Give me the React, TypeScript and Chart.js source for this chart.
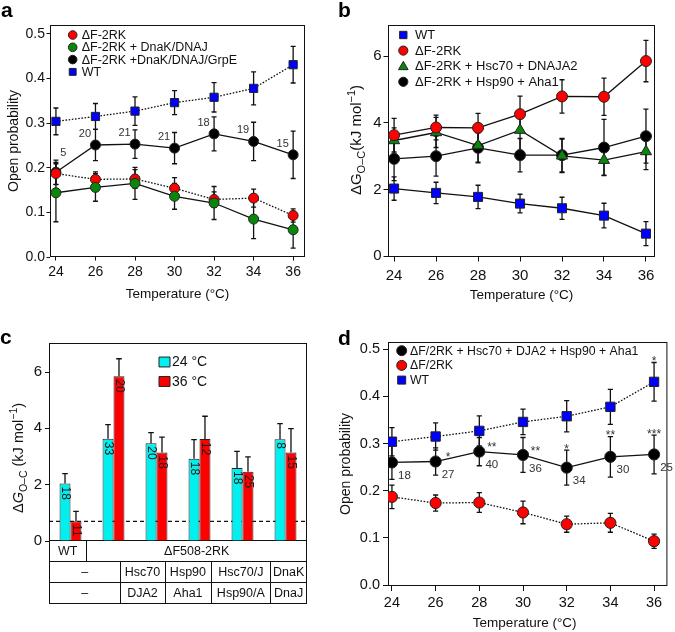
import React, { useEffect, useRef } from 'react';
import { Chart, registerables } from 'chart.js';

Chart.register(...registerables);

const FONT = '"Liberation Sans", Arial, Helvetica, sans-serif';
const INK = '#111111';
const RED = '#ff0000';
const GREEN = '#0a870a';
const BLUE = '#0000ff';
const BLACK = '#000000';
const CYAN = '#00f0f0';

// ---------- shared axes ----------
const TEMPS = [24, 26, 28, 30, 32, 34, 36];
const TEMP_TICKS = [24, 26, 28, 30, 32, 34, 36];
const PO_TICKS = [0, 0.1, 0.2, 0.3, 0.4, 0.5];
const DG_TICKS = [0, 2, 4, 6];

// ---------- panels a & d : open probability ----------
const WT_PO = [0.304, 0.315, 0.327, 0.346, 0.358, 0.378, 0.431];
const WT_PO_ERR = [0.03, 0.029, 0.032, 0.027, 0.033, 0.037, 0.041];
const DF_PO = [0.187, 0.174, 0.175, 0.154, 0.129, 0.132, 0.093];
const DF_PO_ERR = [0.025, 0.017, 0.021, 0.024, 0.017, 0.02, 0.015];
const DNAKJ_PO = [0.144, 0.156, 0.165, 0.136, 0.121, 0.085, 0.061];
const DNAKJ_PO_ERR = [0.065, 0.031, 0.036, 0.029, 0.037, 0.044, 0.041];
const DNAKJE_PO = [0.19, 0.251, 0.253, 0.244, 0.276, 0.259, 0.229];
const DNAKJE_PO_ERR = [0.027, 0.035, 0.032, 0.035, 0.038, 0.043, 0.053];
const DNAKJE_N = ['5', '20', '21', '21', '18', '19', '15'];

const COMBO_PO = [0.26, 0.262, 0.283, 0.276, 0.249, 0.272, 0.277];
const COMBO_PO_ERR = [0.036, 0.029, 0.03, 0.037, 0.037, 0.043, 0.041];
const COMBO_N = ['18', '27', '40', '36', '34', '30', '25'];
const COMBO_SIG = ['', '*', '**', '**', '*', '**', '***'];
const WT_SIG = ['', '', '', '', '', '', '*'];

// ---------- panel b : ΔG ----------
const WT_DG = [2.03, 1.9, 1.78, 1.58, 1.44, 1.22, 0.68];
const WT_DG_ERR = [0.35, 0.32, 0.35, 0.28, 0.33, 0.37, 0.36];
const DF_DG = [3.63, 3.86, 3.85, 4.26, 4.79, 4.78, 5.85];
const DF_DG_ERR = [0.5, 0.37, 0.43, 0.54, 0.5, 0.56, 0.62];
const HSC_DG = [3.47, 3.71, 3.32, 3.78, 3.01, 2.88, 3.14];
const HSC_DG_ERR = [0.38, 0.45, 0.5, 0.6, 0.5, 0.45, 0.54];
const HSP_DG = [2.92, 3.0, 3.25, 3.03, 3.03, 3.26, 3.6];
const HSP_DG_ERR = [0.65, 0.6, 0.45, 0.5, 0.5, 0.84, 0.81];

// ---------- panel c : bars ----------
const C_GROUPS = ['WT', 'ΔF508-2RK', 'Hsc70 + DJA2', 'Hsp90 + Aha1', 'Hsc70/J + Hsp90/A', 'DnaK + DnaJ'];
const C_24 = [2.04, 3.63, 3.47, 2.92, 2.59, 3.61];
const C_24_ERR = [0.35, 0.5, 0.38, 0.68, 0.59, 0.56];
const C_36 = [0.7, 5.85, 3.14, 3.62, 2.46, 3.14];
const C_36_ERR = [0.35, 0.62, 0.55, 0.81, 0.53, 0.85];
const C_24_N = ['18', '33', '20', '18', '18', '8'];
const C_36_N = ['11', '20', '18', '12', '25', '15'];
const C_REF = 0.7;
const ROW1 = ['WT', 'ΔF508-2RK'];
const ROW2 = ['–', 'Hsc70', 'Hsp90', 'Hsc70/J', 'DnaK'];
const ROW3 = ['–', 'DJA2', 'Aha1', 'Hsp90/A', 'DnaJ'];

// ---------- helpers ----------
function font(size: number, weight = 'normal', style = 'normal') {
  return `${style} ${weight} ${size}px ${FONT}`;
}

type Seg = { t: string; s: number; dy?: number; it?: boolean };
function richText(ctx: CanvasRenderingContext2D, segs: Seg[], cx: number, cy: number, rot: number) {
  ctx.save();
  ctx.translate(cx, cy);
  ctx.rotate(rot);
  ctx.textBaseline = 'alphabetic';
  ctx.textAlign = 'left';
  ctx.fillStyle = INK;
  let total = 0;
  const ws = segs.map((g) => {
    ctx.font = font(g.s, 'normal', g.it ? 'italic' : 'normal');
    const w = ctx.measureText(g.t).width;
    total += w;
    return w;
  });
  const main = segs[0].s;
  let x = -total / 2;
  segs.forEach((g, i) => {
    ctx.font = font(g.s, 'normal', g.it ? 'italic' : 'normal');
    ctx.fillText(g.t, x, main * 0.36 + (g.dy || 0));
    x += ws[i];
  });
  ctx.restore();
}

function text(ctx: CanvasRenderingContext2D, t: string, x: number, y: number, size: number, rot = 0, color = INK, weight = 'normal') {
  ctx.save();
  ctx.translate(x, y);
  ctx.rotate(rot);
  ctx.font = font(size, weight);
  ctx.fillStyle = color;
  ctx.textAlign = 'center';
  ctx.textBaseline = 'middle';
  ctx.fillText(t, 0, 0);
  ctx.restore();
}

function letter(ctx: CanvasRenderingContext2D, t: string, x: number, y: number) {
  ctx.save();
  ctx.font = font(21, 'bold');
  ctx.fillStyle = '#000';
  ctx.textAlign = 'left';
  ctx.textBaseline = 'alphabetic';
  ctx.fillText(t, x, y);
  ctx.restore();
}

function marker(ctx: CanvasRenderingContext2D, style: string, x: number, y: number, r: number, fill: string) {
  ctx.save();
  ctx.fillStyle = fill;
  ctx.strokeStyle = '#222';
  ctx.lineWidth = 1;
  ctx.beginPath();
  if (style === 'rect') {
    const s = r * 0.8;
    ctx.rect(x - s, y - s, 2 * s, 2 * s);
  } else if (style === 'triangle') {
    ctx.moveTo(x, y - r * 1.05);
    ctx.lineTo(x + r * 1.05, y + r * 0.75);
    ctx.lineTo(x - r * 1.05, y + r * 0.75);
    ctx.closePath();
  } else if (style === 'box') {
    ctx.rect(x - r, y - r * 0.9, 2 * r, 1.8 * r);
  } else {
    ctx.arc(x, y, r, 0, Math.PI * 2);
  }
  ctx.fill();
  ctx.stroke();
  ctx.restore();
}

const framePlugin = {
  id: 'frame',
  beforeDatasetsDraw(chart: any) {
    const { ctx, chartArea: a } = chart;
    ctx.save();
    ctx.strokeStyle = INK;
    ctx.lineWidth = 1;
    ctx.strokeRect(a.left + 0.5, a.top + 0.5, a.right - a.left - 1, a.bottom - a.top - 1);
    ctx.restore();
  },
};

function errorBars(o: { cap: number; width: number; upOnly?: boolean }) {
  const draw = (chart: any) => {
    const ctx = chart.ctx;
    const ys = chart.scales.y;
    ctx.save();
    ctx.strokeStyle = INK;
    ctx.lineWidth = o.width;
    chart.data.datasets.forEach((ds: any, di: number) => {
      if (!ds.errors) return;
      const meta = chart.getDatasetMeta(di);
      meta.data.forEach((el: any, i: number) => {
        const d = ds.data[i];
        const v = typeof d === 'number' ? d : d.y;
        const e = ds.errors[i];
        const top = ys.getPixelForValue(v + e);
        const bot = ys.getPixelForValue(o.upOnly ? v : v - e);
        const x = el.x;
        ctx.beginPath();
        ctx.moveTo(x, top);
        ctx.lineTo(x, bot);
        ctx.moveTo(x - o.cap, top);
        ctx.lineTo(x + o.cap, top);
        if (!o.upOnly) {
          ctx.moveTo(x - o.cap, bot);
          ctx.lineTo(x + o.cap, bot);
        }
        ctx.stroke();
      });
    });
    ctx.restore();
  };
  return o.upOnly
    ? { id: 'errorBars', afterDatasetsDraw: draw }
    : { id: 'errorBars', beforeDatasetsDraw: draw };
}

function legendPlugin(o: { x: number; y: number; dy: number; tx: number; size: number; r: number; order: number[] }) {
  return {
    id: 'customLegend',
    afterDraw(chart: any) {
      const ctx = chart.ctx;
      o.order.forEach((di, k) => {
        const ds = chart.data.datasets[di];
        const y = o.y + k * o.dy;
        const style = ds.legendMarker || ds.pointStyle || 'circle';
        const fill = ds.pointBackgroundColor || ds.backgroundColor;
        marker(ctx, style, o.x, y, o.r, fill);
        ctx.save();
        ctx.font = font(o.size);
        ctx.fillStyle = INK;
        ctx.textAlign = 'left';
        ctx.textBaseline = 'middle';
        ctx.fillText(ds.label, o.tx, y + 0.5);
        ctx.restore();
      });
    },
  };
}

function decor(fn: (chart: any, ctx: CanvasRenderingContext2D) => void) {
  return { id: 'decor', afterDraw(chart: any) { fn(chart, chart.ctx); } };
}

function pts(vals: number[]) {
  return TEMPS.map((t, i) => ({ x: t, y: vals[i] }));
}

function lineDs(label: string, vals: number[], errs: number[], color: string, shape: string, r: number, dotted: boolean, order: number) {
  return {
    label,
    data: pts(vals),
    errors: errs,
    borderColor: INK,
    borderWidth: 1.3,
    borderDash: dotted ? [1.6, 1.6] : [],
    pointStyle: shape,
    pointRadius: r,
    pointHoverRadius: r,
    pointBackgroundColor: color,
    pointBorderColor: '#222',
    pointBorderWidth: 1,
    backgroundColor: color,
    fill: false,
    tension: 0,
    order,
  };
}

type LO = {
  W: number; H: number; L: number; T: number; R: number; B: number;
  xmin: number; xmax: number; ymin: number; ymax: number;
  yticks: number[]; ydec: number; fs: number; tl: number; xpad: number; ypad: number;
};

function lineOptions(o: LO) {
  const tickFont = { family: FONT, size: o.fs };
  const grid = { display: true, drawOnChartArea: false, drawTicks: true, tickLength: o.tl, color: INK, lineWidth: 1 };
  return {
    responsive: false,
    maintainAspectRatio: false,
    animation: false,
    layout: { padding: { left: 0, top: o.T, right: o.W - o.R, bottom: 0 } },
    plugins: { legend: { display: false }, tooltip: { enabled: false }, title: { display: false } },
    scales: {
      x: {
        type: 'linear',
        min: o.xmin,
        max: o.xmax,
        afterBuildTicks: (s: any) => { s.ticks = TEMP_TICKS.map((v) => ({ value: v })); },
        afterFit: (s: any) => { s.height = o.H - o.B; },
        ticks: { font: tickFont, color: INK, padding: o.xpad, maxRotation: 0, autoSkip: false, callback: (v: any) => String(v) },
        grid,
        border: { display: false },
      },
      y: {
        type: 'linear',
        min: o.ymin,
        max: o.ymax,
        afterBuildTicks: (s: any) => { s.ticks = o.yticks.map((v) => ({ value: v })); },
        afterFit: (s: any) => { s.width = o.L; },
        ticks: { font: tickFont, color: INK, padding: o.ypad, callback: (v: any) => Number(v).toFixed(o.ydec) },
        grid,
        border: { display: false },
      },
    },
  };
}

const DG_TITLE_B: Seg[] = [
  { t: 'ΔG', s: 15 },
  { t: 'O–C', s: 11, dy: 3.5 },
  { t: '(kJ mol', s: 15 },
  { t: '−1', s: 11, dy: -6 },
  { t: ')', s: 15 },
];
const DG_TITLE_C: Seg[] = [
  { t: 'Δ', s: 14.5 },
  { t: 'G', s: 14.5, it: true },
  { t: 'O–C', s: 10.5, dy: 3.5 },
  { t: ' (kJ mol', s: 14.5 },
  { t: '−1', s: 10.5, dy: -6 },
  { t: ')', s: 14.5 },
];

// ---------- panel a ----------
function makeA() {
  return {
    type: 'line',
    data: {
      datasets: [
        lineDs('ΔF-2RK', DF_PO, DF_PO_ERR, RED, 'circle', 5, true, 1),
        lineDs('ΔF-2RK + DnaK/DNAJ', DNAKJ_PO, DNAKJ_PO_ERR, GREEN, 'circle', 5, false, 0),
        lineDs('ΔF-2RK +DnaK/DNAJ/GrpE', DNAKJE_PO, DNAKJE_PO_ERR, BLACK, 'circle', 5, false, 2),
        lineDs('WT', WT_PO, WT_PO_ERR, BLUE, 'rect', 5.8, true, 3),
      ],
    },
    options: lineOptions({
      W: 337, H: 316, L: 50, T: 25, R: 305, B: 257,
      xmin: 23.7, xmax: 36.6, ymin: 0, ymax: 0.52,
      yticks: PO_TICKS, ydec: 1, fs: 14, tl: 3.5, xpad: 3, ypad: 1.5,
    }),
    plugins: [
      framePlugin,
      errorBars({ cap: 2.5, width: 1.3 }),
      legendPlugin({ x: 72.7, y: 35, dy: 12.3, tx: 81.7, size: 12.5, r: 4.3, order: [0, 1, 2, 3] }),
      decor((chart, ctx) => {
        const a = chart.chartArea;
        letter(ctx, 'a', 1, 17);
        text(ctx, 'Temperature (°C)', (a.left + a.right) / 2, 294, 13.5);
        text(ctx, 'Open probability', 14, (a.top + a.bottom) / 2, 14, -Math.PI / 2);
        const meta = chart.getDatasetMeta(2);
        meta.data.forEach((el: any, i: number) => {
          const dx = i === 0 ? 7.5 : -10.5;
          const dy = i === 0 ? -19 : -11;
          text(ctx, DNAKJE_N[i], el.x + dx, el.y + dy, 11, 0, '#333');
        });
      }),
    ],
  };
}

// ---------- panel b ----------
function makeB() {
  return {
    type: 'line',
    data: {
      datasets: [
        lineDs('WT', WT_DG, WT_DG_ERR, BLUE, 'rect', 6.4, false, 3),
        lineDs('ΔF-2RK', DF_DG, DF_DG_ERR, RED, 'circle', 5.5, false, 0),
        lineDs('ΔF-2RK + Hsc70 + DNAJA2', HSC_DG, HSC_DG_ERR, GREEN, 'triangle', 6.4, false, 1),
        lineDs('ΔF-2RK + Hsp90 + Aha1', HSP_DG, HSP_DG_ERR, BLACK, 'circle', 5.5, false, 2),
      ],
    },
    options: lineOptions({
      W: 338, H: 316, L: 51, T: 25, R: 318, B: 257,
      xmin: 23.71, xmax: 36.43, ymin: -0.02, ymax: 6.93,
      yticks: DG_TICKS, ydec: 0, fs: 15, tl: 4.5, xpad: 5, ypad: 2,
    }),
    plugins: [
      framePlugin,
      errorBars({ cap: 2.5, width: 1.3 }),
      legendPlugin({ x: 66.3, y: 35, dy: 15.6, tx: 78, size: 13, r: 4.6, order: [0, 1, 2, 3] }),
      decor((chart, ctx) => {
        const a = chart.chartArea;
        letter(ctx, 'b', 1, 17);
        text(ctx, 'Temperature (°C)', (a.left + a.right) / 2, 295, 13.5);
        richText(ctx, DG_TITLE_B, 19, 140, -Math.PI / 2);
      }),
    ],
  };
}

// ---------- panel c ----------
const ROW1_SPLIT = [0, 0.145, 1];
const ROW23_SPLIT = [0, 0.277, 0.448, 0.629, 0.858, 1];
const ROW_H = [21, 21, 20.6];

function makeC() {
  const W = 337, H = 316, L = 49, T = 27, R = 307, B = 225;
  const tickFont = { family: FONT, size: 15 };
  return {
    type: 'bar',
    data: {
      labels: C_GROUPS,
      datasets: [
        { label: '24 °C', data: C_24, errors: C_24_ERR, counts: C_24_N, backgroundColor: CYAN, borderColor: '#222', borderWidth: 1, categoryPercentage: 0.51, barPercentage: 1, legendMarker: 'box' },
        { label: '36 °C', data: C_36, errors: C_36_ERR, counts: C_36_N, backgroundColor: RED, borderColor: '#222', borderWidth: 1, categoryPercentage: 0.51, barPercentage: 1, legendMarker: 'box' },
      ],
    },
    options: {
      responsive: false,
      maintainAspectRatio: false,
      animation: false,
      layout: { padding: { left: 0, top: T, right: W - R, bottom: 0 } },
      plugins: { legend: { display: false }, tooltip: { enabled: false } },
      scales: {
        x: {
          ticks: { display: false },
          grid: { display: false },
          border: { display: false },
          afterFit: (s: any) => { s.height = H - B; },
        },
        y: {
          min: 0,
          max: 7.03,
          afterBuildTicks: (s: any) => { s.ticks = DG_TICKS.map((v) => ({ value: v })); },
          afterFit: (s: any) => { s.width = L; },
          ticks: { font: tickFont, color: INK, padding: 3 },
          grid: { display: true, drawOnChartArea: false, drawTicks: true, tickLength: 4, color: INK },
          border: { display: false },
        },
      },
    },
    plugins: [
      framePlugin,
      {
        id: 'refLine',
        beforeDatasetsDraw(chart: any) {
          const { ctx, chartArea: a } = chart;
          const y = chart.scales.y.getPixelForValue(C_REF);
          ctx.save();
          ctx.strokeStyle = INK;
          ctx.lineWidth = 1.3;
          ctx.setLineDash([4, 3]);
          ctx.beginPath();
          ctx.moveTo(a.left, y);
          ctx.lineTo(a.right, y);
          ctx.stroke();
          ctx.restore();
        },
      },
      errorBars({ cap: 2.8, width: 1.3, upOnly: true }),
      {
        id: 'counts',
        afterDatasetsDraw(chart: any) {
          const ctx = chart.ctx;
          chart.data.datasets.forEach((ds: any, di: number) => {
            const meta = chart.getDatasetMeta(di);
            meta.data.forEach((el: any, i: number) => {
              ctx.save();
              ctx.translate(el.x + 0.5, el.y + 3);
              ctx.rotate(Math.PI / 2);
              ctx.font = font(12);
              ctx.fillStyle = '#1a1a1a';
              ctx.textAlign = 'left';
              ctx.textBaseline = 'middle';
              ctx.fillText(ds.counts[i], 0, 0);
              ctx.restore();
            });
          });
        },
      },
      legendPlugin({ x: 164.5, y: 46, dy: 19.5, tx: 172, size: 14, r: 5.5, order: [0, 1] }),
      decor((chart, ctx) => {
        const a = chart.chartArea;
        letter(ctx, 'c', 0, 27.5);
        richText(ctx, DG_TITLE_C, 18, 142, -Math.PI / 2);
        // category table under the axis
        const w = a.right - a.left;
        const y0 = a.bottom;
        const y1 = y0 + ROW_H[0];
        const y2 = y1 + ROW_H[1];
        const y3 = y2 + ROW_H[2];
        ctx.save();
        ctx.strokeStyle = INK;
        ctx.lineWidth = 1;
        const hl = (y: number) => { ctx.beginPath(); ctx.moveTo(a.left, Math.round(y) + 0.5); ctx.lineTo(a.right, Math.round(y) + 0.5); ctx.stroke(); };
        const vl = (x: number, ya: number, yb: number) => { ctx.beginPath(); ctx.moveTo(Math.round(x) + 0.5, ya); ctx.lineTo(Math.round(x) + 0.5, yb); ctx.stroke(); };
        hl(y1 - 1); hl(y2 - 1); hl(y3 - 1);
        vl(a.left, y0, y3);
        vl(a.right - 1, y0, y3);
        vl(a.left + w * ROW1_SPLIT[1], y0, y1);
        ROW23_SPLIT.slice(1, -1).forEach((f) => vl(a.left + w * f, y1, y3));
        ctx.restore();
        ROW1.forEach((t, i) => {
          const xa = a.left + w * ROW1_SPLIT[i];
          const xb = a.left + w * ROW1_SPLIT[i + 1];
          text(ctx, t, (xa + xb) / 2, (y0 + y1) / 2, 12.5);
        });
        [ROW2, ROW3].forEach((row, r) => {
          const ya = r === 0 ? y1 : y2;
          const yb = r === 0 ? y2 : y3;
          row.forEach((t, i) => {
            const xa = a.left + w * ROW23_SPLIT[i];
            const xb = a.left + w * ROW23_SPLIT[i + 1];
            text(ctx, t, (xa + xb) / 2, (ya + yb) / 2, 12.5);
          });
        });
      }),
    ],
  };
}

// ---------- panel d ----------
function makeD() {
  return {
    type: 'line',
    data: {
      datasets: [
        lineDs('ΔF/2RK + Hsc70 + DJA2 + Hsp90 + Aha1', COMBO_PO, COMBO_PO_ERR, BLACK, 'circle', 5.6, false, 0),
        lineDs('ΔF/2RK', DF_PO, DF_PO_ERR, RED, 'circle', 5.6, true, 1),
        lineDs('WT', WT_PO, WT_PO_ERR, BLUE, 'rect', 6.6, true, 2),
      ],
    },
    options: lineOptions({
      W: 338, H: 316, L: 51, T: 26, R: 333, B: 270,
      xmin: 23.82, xmax: 36.61, ymin: -0.002, ymax: 0.5155,
      yticks: PO_TICKS, ydec: 1, fs: 14.5, tl: 5, xpad: 3.5, ypad: 3,
    }),
    plugins: [
      framePlugin,
      errorBars({ cap: 2.6, width: 1.3 }),
      legendPlugin({ x: 64.7, y: 34.7, dy: 14.7, tx: 73, size: 12.3, r: 5, order: [0, 1, 2] }),
      decor((chart, ctx) => {
        const a = chart.chartArea;
        const ys = chart.scales.y;
        letter(ctx, 'd', 1, 29);
        text(ctx, 'Temperature (°C)', (a.left + a.right) / 2 - 3, 307, 13.5);
        text(ctx, 'Open probability', 9, (a.top + a.bottom) / 2, 14, -Math.PI / 2);
        const meta = chart.getDatasetMeta(0);
        meta.data.forEach((el: any, i: number) => {
          text(ctx, COMBO_N[i], el.x + 12.5, el.y + 13.5, 11.5, 0, '#333');
          const sig = COMBO_SIG[i];
          if (!sig) return;
          ctx.save();
          ctx.font = font(12);
          ctx.fillStyle = '#333';
          ctx.textAlign = 'center';
          ctx.textBaseline = 'alphabetic';
          if (i >= 1 && i <= 3) {
            ctx.fillText(sig, el.x + 12.5, el.y - 7 + 6.8);
          } else {
            const top = ys.getPixelForValue(COMBO_PO[i] + COMBO_PO_ERR[i]);
            ctx.fillText(sig, el.x, top + 2.5);
          }
          ctx.restore();
        });
        const wtMeta = chart.getDatasetMeta(2);
        wtMeta.data.forEach((el: any, i: number) => {
          const sig = WT_SIG[i];
          if (!sig) return;
          const top = ys.getPixelForValue(WT_PO[i] + WT_PO_ERR[i]);
          ctx.save();
          ctx.font = font(12);
          ctx.fillStyle = '#333';
          ctx.textAlign = 'center';
          ctx.textBaseline = 'alphabetic';
          ctx.fillText(sig, el.x, top + 2.5);
          ctx.restore();
        });
      }),
    ],
  };
}

function ChartBox({ make, left, top, w, h }: { make: () => any; left: number; top: number; w: number; h: number }) {
  const ref = useRef<HTMLCanvasElement>(null);
  useEffect(() => {
    const chart = new Chart(ref.current as HTMLCanvasElement, make());
    return () => chart.destroy();
  }, []);
  return (
    <canvas
      ref={ref}
      width={w}
      height={h}
      style={{ position: 'absolute', left, top, width: w, height: h, display: 'block' }}
    />
  );
}

export default function App() {
  return (
    <div style={{ position: 'absolute', left: 0, top: 0, width: 675, height: 632, background: '#fff', overflow: 'hidden' }}>
      <ChartBox make={makeA} left={0} top={0} w={337} h={316} />
      <ChartBox make={makeB} left={337} top={0} w={338} h={316} />
      <ChartBox make={makeC} left={0} top={316} w={337} h={316} />
      <ChartBox make={makeD} left={337} top={316} w={338} h={316} />
    </div>
  );
}
